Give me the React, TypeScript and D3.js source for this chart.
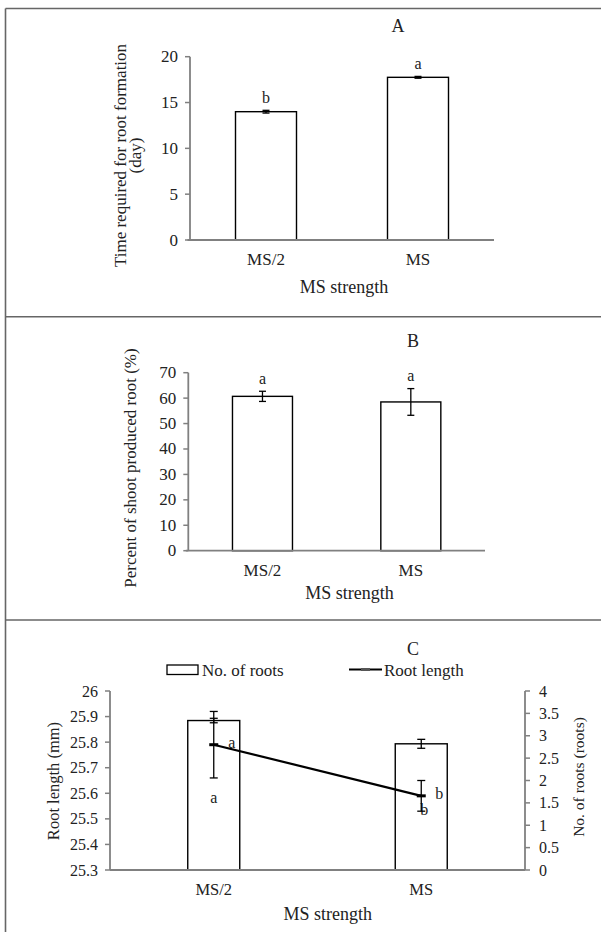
import * as d3 from 'd3';

// shared categories
const categories = ['MS/2', 'MS'];

// A - time to root formation (day)
const rootDays = [14.0, 17.75];
const rootDaysErr = [0.15, 0.1];
const rootDaysLetters = ['b', 'a'];
const ticksA = [0, 5, 10, 15, 20];

// B - percent of shoots that rooted
const rootedPct = [60.7, 58.5];
const rootedPctErr = [2.0, 5.25];
const rootedLetters = ['a', 'a'];
const ticksB = [0, 10, 20, 30, 40, 50, 60, 70];

// C - number of roots (bars, right axis) and root length (line, left axis)
const rootCount = [3.34, 2.82];
const rootCountErr = [0.05, 0.1];
const rootCountLetters = ['a', 'b'];
const rootLength = [25.79, 25.59];
const rootLengthErr = [0.13, 0.06];
const rootLengthLetters = ['a', 'b'];
const ticksCLeft = [25.3, 25.4, 25.5, 25.6, 25.7, 25.8, 25.9, 26];
const ticksCRight = [0, 0.5, 1, 1.5, 2, 2.5, 3, 3.5, 4];

const FONT = "'Liberation Serif', 'Times New Roman', serif";
const TXT = '#222';
const AXIS = '#808080';

function ErrBar({ x, y1, y2, cap = 4, w = 1.3 }) {
  return (
    <g stroke="#000" strokeWidth={w}>
      <line x1={x} x2={x} y1={y1} y2={y2} />
      <line x1={x - cap} x2={x + cap} y1={y1} y2={y1} />
      <line x1={x - cap} x2={x + cap} y1={y2} y2={y2} />
    </g>
  );
}

function LeftAxis({ x, y, ticks, fmt = (d) => String(d), size = 17 }) {
  const [a, b] = y.range();
  return (
    <g>
      <line x1={x} x2={x} y1={a} y2={b} stroke={AXIS} strokeWidth={1.8} />
      {ticks.map((t) => (
        <g key={t}>
          <line x1={x - 5} x2={x} y1={y(t)} y2={y(t)} stroke={AXIS} strokeWidth={1.5} />
          <text x={x - 12} y={y(t)} textAnchor="end" dominantBaseline="central" fontSize={size} fill={TXT}>
            {fmt(t)}
          </text>
        </g>
      ))}
    </g>
  );
}

function Panel({ title, tx, ty, xs, y, ticks, values, errs, letters, barW, tickSize, ylabel }) {
  const [x0, x1] = xs.range();
  const y0 = y.range()[0];
  return (
    <g>
      <text x={tx} y={ty} textAnchor="middle" dominantBaseline="central" fontSize={18} fill={TXT}>{title}</text>
      {categories.map((c, i) => {
        const cx = xs(c);
        return (
          <g key={c}>
            <rect x={cx - barW / 2} y={y(values[i])} width={barW} height={y0 - y(values[i])}
              fill="#fff" stroke="#000" strokeWidth={1.4} />
            <ErrBar x={cx} y1={y(values[i] + errs[i])} y2={y(values[i] - errs[i])} cap={3.5} />
            <text x={cx} y={y(values[i] + errs[i]) - 13} textAnchor="middle" dominantBaseline="central"
              fontSize={16} fill={TXT}>{letters[i]}</text>
            <text x={cx} y={y0 + 19.5} textAnchor="middle" dominantBaseline="central" fontSize={17} fill={TXT}>{c}</text>
          </g>
        );
      })}
      <line x1={x0 - 2.5} x2={x1} y1={y0} y2={y0} stroke={AXIS} strokeWidth={1.8} />
      <LeftAxis x={x0} y={y} ticks={ticks} size={tickSize} />
      {ylabel}
    </g>
  );
}

export default function App() {
  // panel A scales
  const xA = d3.scalePoint().domain(categories).range([190, 494]).padding(0.5);
  const yA = d3.scaleLinear().domain([0, 20]).range([240, 56.7]);
  // panel B scales
  const xB = d3.scalePoint().domain(categories).range([188.3, 485]).padding(0.5);
  const yB = d3.scaleLinear().domain([0, 70]).range([550.7, 372.7]);
  // panel C scales
  const xC = d3.scalePoint().domain(categories).range([110, 525]).padding(0.5);
  const yL = d3.scaleLinear().domain([25.3, 26]).range([870, 691]);
  const yR = d3.scaleLinear().domain([0, 4]).range([870, 691]);

  const line = d3.line<number>()
    .x((_, i) => xC(categories[i]))
    .y((d) => yL(d));

  // bar letters in panel C hang under the root length error bars
  const barLetterDy = [20, -2];
  const barLetterDx = [0, 3];

  return (
    <svg width={601} height={932} style={{ position: 'absolute', left: 0, top: 0, background: '#fff', fontFamily: FONT }}>
      <rect x={0} y={0} width={601} height={932} fill="#fff" />
      {/* frame */}
      <g stroke="#666" strokeWidth={1.6} fill="none">
        <line x1={5.5} x2={5.5} y1={8.5} y2={932} />
        <line x1={5.5} x2={601} y1={8.5} y2={8.5} />
        <line x1={5.5} x2={601} y1={316.7} y2={316.7} />
        <line x1={5.5} x2={601} y1={620} y2={620} />
      </g>

      <Panel title="A" tx={398} ty={26} xs={xA} y={yA} ticks={ticksA} values={rootDays} errs={rootDaysErr}
        letters={rootDaysLetters} barW={61} tickSize={17}
        ylabel={
          <g fontSize={17} fill={TXT} textAnchor="middle">
            <text transform="translate(120.7,155.5) rotate(-90)" dominantBaseline="central">Time required for root formation</text>
            <text transform="translate(135,155.5) rotate(-90)" dominantBaseline="central">(day)</text>
          </g>
        } />
      <text x={344} y={287.3} textAnchor="middle" dominantBaseline="central" fontSize={18} fill={TXT}>MS strength</text>

      <Panel title="B" tx={413} ty={340.7} xs={xB} y={yB} ticks={ticksB} values={rootedPct} errs={rootedPctErr}
        letters={rootedLetters} barW={60} tickSize={17}
        ylabel={
          <text transform="translate(130,468) rotate(-90)" textAnchor="middle" dominantBaseline="central"
            fontSize={17} fill={TXT}>Percent of shoot produced root (%)</text>
        } />
      <text x={349.6} y={592.7} textAnchor="middle" dominantBaseline="central" fontSize={18} fill={TXT}>MS strength</text>

      {/* panel C */}
      <g>
        <text x={413} y={649} textAnchor="middle" dominantBaseline="central" fontSize={18} fill={TXT}>C</text>
        {/* legend */}
        <rect x={167} y={665} width={31} height={9.5} fill="#fff" stroke="#000" strokeWidth={1.3} />
        <text x={202} y={670} dominantBaseline="central" fontSize={17} fill={TXT}>No. of roots</text>
        <line x1={349} x2={382} y1={669.5} y2={669.5} stroke="#000" strokeWidth={2.2} />
        <line x1={361} x2={370} y1={669.5} y2={669.5} stroke="#555" strokeWidth={3} />
        <text x={384} y={670} dominantBaseline="central" fontSize={17} fill={TXT}>Root length</text>

        {categories.map((c, i) => {
          const cx = xC(c);
          return (
            <g key={c}>
              <rect x={cx - 26} y={yR(rootCount[i])} width={52} height={870 - yR(rootCount[i])}
                fill="#fff" stroke="#000" strokeWidth={1.4} />
              <ErrBar x={cx} y1={yR(rootCount[i] + rootCountErr[i])} y2={yR(rootCount[i] - rootCountErr[i])} cap={4} />
              <text x={cx + barLetterDx[i]} y={yL(rootLength[i] - rootLengthErr[i]) + barLetterDy[i]}
                textAnchor="middle" dominantBaseline="central" fontSize={16} fill={TXT}>{rootCountLetters[i]}</text>
              <text x={cx} y={889.3} textAnchor="middle" dominantBaseline="central" fontSize={16.5} fill={TXT}>{c}</text>
            </g>
          );
        })}

        <path d={line(rootLength) || ''} fill="none" stroke="#000" strokeWidth={2.2} />
        {categories.map((c, i) => {
          const cx = xC(c);
          return (
            <g key={c}>
              <ErrBar x={cx} y1={yL(rootLength[i] + rootLengthErr[i])} y2={yL(rootLength[i] - rootLengthErr[i])} cap={4} />
              <line x1={cx - 4.5} x2={cx + 4.5} y1={yL(rootLength[i])} y2={yL(rootLength[i])} stroke="#000" strokeWidth={3} />
              <text x={cx + 18} y={yL(rootLength[i]) - 2} textAnchor="middle" dominantBaseline="central"
                fontSize={16} fill={TXT}>{rootLengthLetters[i]}</text>
            </g>
          );
        })}

        <line x1={110} x2={525} y1={870} y2={870} stroke={AXIS} strokeWidth={1.8} />
        <LeftAxis x={110} y={yL} ticks={ticksCLeft} size={16} fmt={(d) => d3.format('')(d)} />
        <line x1={525} x2={525} y1={870} y2={691} stroke={AXIS} strokeWidth={1.8} />
        {ticksCRight.map((t) => (
          <g key={t}>
            <line x1={525} x2={530} y1={yR(t)} y2={yR(t)} stroke={AXIS} strokeWidth={1.5} />
            <text x={539} y={yR(t)} dominantBaseline="central" fontSize={16} fill={TXT}>{t}</text>
          </g>
        ))}
        <text transform="translate(53.7,781) rotate(-90)" textAnchor="middle" dominantBaseline="central"
          fontSize={16.5} fill={TXT}>Root length (mm)</text>
        <text transform="translate(578,777) rotate(-90)" textAnchor="middle" dominantBaseline="central"
          fontSize={15.5} fill={TXT}>No. of roots (roots)</text>
        <text x={327.7} y={914} textAnchor="middle" dominantBaseline="central" fontSize={18} fill={TXT}>MS strength</text>
      </g>
    </svg>
  );
}
